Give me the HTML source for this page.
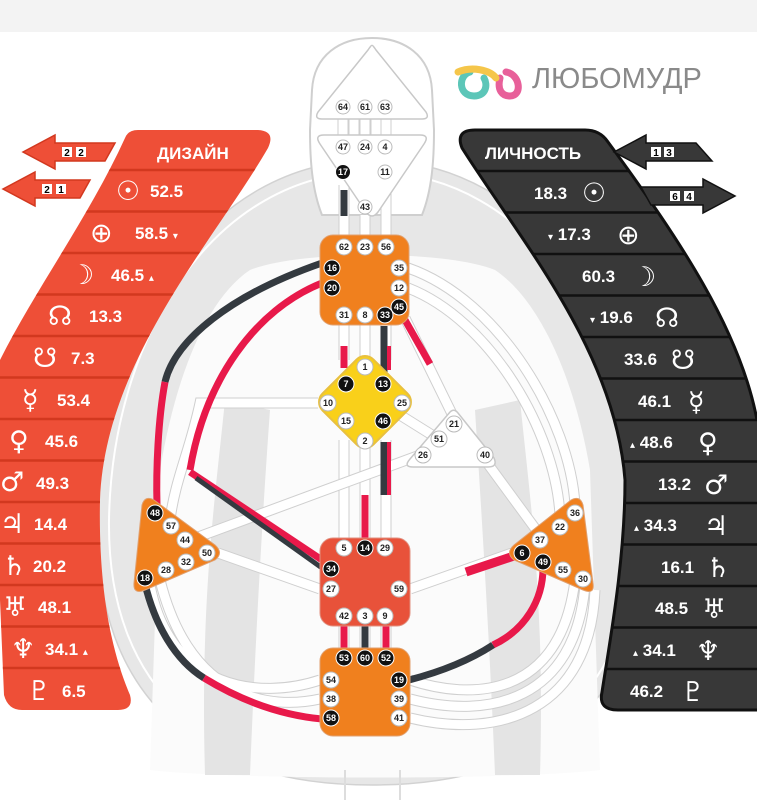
<!DOCTYPE html>
<html><head><meta charset="utf-8"><style>
html,body{margin:0;padding:0;background:#fff;}
svg{display:block;font-family:"Liberation Sans","DejaVu Sans",sans-serif;}
.g circle{fill:#fff;stroke:#bbb;stroke-width:1;}
.g text{font-size:9px;font-weight:bold;text-anchor:middle;fill:#222;}
.b circle{fill:#111;stroke:#fff;stroke-width:1;}
.b text{fill:#fff;}
.pt{fill:#fff;font-size:17px;font-weight:bold;}
.sym{fill:#fff;font-family:"DejaVu Sans",sans-serif;font-size:27px;font-weight:normal;}
.tk{fill:none;stroke:#cfcfcf;stroke-width:11;stroke-linecap:butt;}
.tw{fill:none;stroke:#fff;stroke-width:9;}
</style></head><body>
<svg width="757" height="800" viewBox="0 0 757 800" xmlns="http://www.w3.org/2000/svg">
<rect width="757" height="800" fill="#fff"/>
<rect width="757" height="32" fill="#f3f3f3"/>

<path d="M372,160 C205,160 100,330 97,520 C95,700 200,785 372,785 C545,785 652,700 650,520 C647,330 540,160 372,160 Z" fill="#e7e7e7" stroke="#d2d2d2" stroke-width="1.5"/>
<path d="M372,172 C215,172 112,335 109,520 C107,690 210,775 372,775 C535,775 640,690 638,520 C635,335 530,172 372,172 Z" fill="none" stroke="#fff" stroke-width="2"/>
<path d="M250,270 C300,250 445,250 495,270 C540,300 575,380 590,470 L600,770 C520,780 230,780 150,770 L160,470 C175,380 205,300 250,270 Z" fill="#fbfbfb"/>
<path d="M225,400 C215,500 200,600 205,775 L250,775 C255,650 262,520 270,410 Z" fill="#e4e4e4"/>
<path d="M520,400 C530,500 545,600 540,775 L495,775 C490,650 482,520 475,410 Z" fill="#e4e4e4"/>
<path d="M345,770 L345,800 M400,770 L400,800" stroke="#ddd" stroke-width="2"/>
<!-- head -->
<path d="M322,215 C312,190 310,160 310,130 L312,90 C314,55 340,38 372,38 C404,38 430,55 432,90 L434,130 C434,160 432,190 422,215 Z" fill="#fff" stroke="#cfcfcf" stroke-width="2"/>

<g>
<path class="tk" d="M343,118 V135 M354,118 V135 M365,118 V135 M376,118 V135 M386,118 V135"/>
<path class="tw" d="M343,118 V135 M354,118 V135 M365,118 V135 M376,118 V135 M386,118 V135"/>
<path class="tk" d="M344,185 V236 M365,215 V236 M386,185 V236 M344,325 V360 M365,325 V360 M386,325 V360 M344,440 V540 M365,440 V540 M386,440 V540 M344,625 V650 M365,625 V650 M386,625 V650"/>
<path class="tw" d="M344,185 V236 M365,215 V236 M386,185 V236 M344,325 V360 M365,325 V360 M386,325 V360 M344,440 V540 M365,440 V540 M386,440 V540 M344,625 V650 M365,625 V650 M386,625 V650"/>
<path class="tk" d="M405,318 L455,420 M408,268 C500,300 570,420 575,505 M408,288 C490,320 555,430 560,515 M318,403 L200,403 C190,450 175,480 170,520 M400,415 L440,440 M190,540 L420,455 M485,460 L540,535 M218,553 L320,589 M410,589 L512,553 M150,585 C170,690 260,700 320,680 M160,580 C190,700 270,710 320,699 M410,680 C470,700 560,700 575,580 M410,699 C490,720 575,700 585,585 M410,718 C500,740 590,710 595,590"/>
<path class="tw" d="M405,318 L455,420 M408,268 C500,300 570,420 575,505 M408,288 C490,320 555,430 560,515 M318,403 L200,403 C190,450 175,480 170,520 M400,415 L440,440 M190,540 L420,455 M485,460 L540,535 M218,553 L320,589 M410,589 L512,553 M150,585 C170,690 260,700 320,680 M160,580 C190,700 270,710 320,699 M410,680 C470,700 560,700 575,580 M410,699 C490,720 575,700 585,585 M410,718 C500,740 590,710 595,590"/>
</g>

<g fill="none" stroke-width="7" stroke-linecap="butt">
<path d="M344,190 V216" stroke="#343a40"/>
<path d="M322,263 C230,295 175,340 165,382" stroke="#343a40"/>
<path d="M165,382 C158,420 156,470 157,505" stroke="#e8194a"/>
<path d="M322,283 C255,310 205,380 190,470" stroke="#e8194a"/>
<path d="M190,472 L322,560" stroke="#e8194a"/>
<path d="M196,478 L322,568" stroke="#343a40" stroke-width="5"/>
<path d="M405,320 L430,364" stroke="#e8194a"/>
<path d="M344,346 V368" stroke="#e8194a"/>
<path d="M384,326 V372" stroke="#343a40"/>
<path d="M389,346 V370" stroke="#e8194a" stroke-width="4"/>
<path d="M384,442 V495" stroke="#343a40"/>
<path d="M389,442 V495" stroke="#e8194a" stroke-width="4"/>
<path d="M365,495 V540" stroke="#e8194a"/>
<path d="M466,572 L514,556" stroke="#e8194a" stroke-width="9"/>
<path d="M543,568 C543,600 525,630 493,645" stroke="#e8194a"/>
<path d="M493,645 C470,660 440,672 409,680" stroke="#343a40"/>
<path d="M145,584 C155,625 175,660 204,678" stroke="#343a40"/>
<path d="M204,678 C240,700 280,715 322,719" stroke="#e8194a"/>
<path d="M344,626 V648" stroke="#e8194a"/>
<path d="M365,626 V648" stroke="#343a40"/>
<path d="M386,626 V648" stroke="#e8194a"/>
</g>

<path d="M372,46 Q372,44 376,50 L426,112 Q430,119 422,119 L322,119 Q314,119 318,112 L368,50 Q372,44 372,46 Z" fill="#fff" stroke="#c8c8c8" stroke-width="1.5"/>
<path d="M324,135 L420,135 Q430,135 424,144 L378,212 Q372,220 366,212 L320,144 Q314,135 324,135 Z" fill="#fff" stroke="#c8c8c8" stroke-width="1.5"/>
<rect x="320" y="235" width="89" height="90" rx="13" fill="#f0801e" stroke="#e0a070" stroke-width="1"/>
<rect x="329" y="366" width="72" height="72" rx="12" fill="#f9d01a" stroke="#e8c040" stroke-width="2" transform="rotate(45 365 402)"/>
<path d="M450,412 Q454,408 458,413 L494,458 Q498,467 488,467 L413,467 Q403,467 410,459 Z" fill="#fff" stroke="#c8c8c8" stroke-width="1.5"/>
<path d="M142,505 Q145,495 154,500 L215,545 Q224,553 215,560 L145,590 Q133,595 134,583 Z" fill="#f0801e" stroke="#e0a070" stroke-width="1"/>
<path d="M583,505 Q580,495 571,500 L514,545 Q505,553 514,560 L583,590 Q595,595 593,583 Z" fill="#f0801e" stroke="#e0a070" stroke-width="1"/>
<rect x="320" y="538" width="90" height="88" rx="13" fill="#e8523a" stroke="#e09080" stroke-width="1"/>
<rect x="320" y="648" width="90" height="88" rx="13" fill="#f0801e" stroke="#e0a070" stroke-width="1"/>

<g class="g">
<g><circle cx="343" cy="107" r="7"/><text x="343" y="110">64</text></g>
<g><circle cx="365" cy="107" r="7"/><text x="365" y="110">61</text></g>
<g><circle cx="385" cy="107" r="7"/><text x="385" y="110">63</text></g>
<g><circle cx="343" cy="147" r="7"/><text x="343" y="150">47</text></g>
<g><circle cx="365" cy="147" r="7"/><text x="365" y="150">24</text></g>
<g><circle cx="385" cy="147" r="7"/><text x="385" y="150">4</text></g>
<g class="b"><circle cx="343" cy="172" r="7.5"/><text x="343" y="175">17</text></g>
<g><circle cx="385" cy="172" r="7"/><text x="385" y="175">11</text></g>
<g><circle cx="365" cy="207" r="7"/><text x="365" y="210">43</text></g>
<g><circle cx="344" cy="247" r="8"/><text x="344" y="250">62</text></g>
<g><circle cx="365" cy="247" r="8"/><text x="365" y="250">23</text></g>
<g><circle cx="386" cy="247" r="8"/><text x="386" y="250">56</text></g>
<g class="b"><circle cx="332" cy="268" r="8"/><text x="332" y="271">16</text></g>
<g><circle cx="399" cy="268" r="8"/><text x="399" y="271">35</text></g>
<g class="b"><circle cx="332" cy="288" r="8"/><text x="332" y="291">20</text></g>
<g><circle cx="399" cy="288" r="8"/><text x="399" y="291">12</text></g>
<g class="b"><circle cx="399" cy="307" r="8"/><text x="399" y="310">45</text></g>
<g><circle cx="344" cy="315" r="8"/><text x="344" y="318">31</text></g>
<g><circle cx="365" cy="315" r="8"/><text x="365" y="318">8</text></g>
<g class="b"><circle cx="385" cy="315" r="8"/><text x="385" y="318">33</text></g>
<g><circle cx="365" cy="367" r="8"/><text x="365" y="370">1</text></g>
<g class="b"><circle cx="346" cy="384" r="8"/><text x="346" y="387">7</text></g>
<g class="b"><circle cx="383" cy="384" r="8"/><text x="383" y="387">13</text></g>
<g><circle cx="328" cy="403" r="8"/><text x="328" y="406">10</text></g>
<g><circle cx="402" cy="403" r="8"/><text x="402" y="406">25</text></g>
<g><circle cx="346" cy="421" r="8"/><text x="346" y="424">15</text></g>
<g class="b"><circle cx="383" cy="421" r="8"/><text x="383" y="424">46</text></g>
<g><circle cx="365" cy="441" r="8"/><text x="365" y="444">2</text></g>
<g><circle cx="454" cy="424" r="8"/><text x="454" y="427">21</text></g>
<g><circle cx="439" cy="439" r="8"/><text x="439" y="442">51</text></g>
<g><circle cx="423" cy="455" r="8"/><text x="423" y="458">26</text></g>
<g><circle cx="485" cy="455" r="8"/><text x="485" y="458">40</text></g>
<g class="b"><circle cx="155" cy="513" r="8"/><text x="155" y="516">48</text></g>
<g><circle cx="171" cy="526" r="8"/><text x="171" y="529">57</text></g>
<g><circle cx="185" cy="540" r="8"/><text x="185" y="543">44</text></g>
<g><circle cx="207" cy="553" r="8"/><text x="207" y="556">50</text></g>
<g><circle cx="186" cy="562" r="8"/><text x="186" y="565">32</text></g>
<g><circle cx="166" cy="570" r="8"/><text x="166" y="573">28</text></g>
<g class="b"><circle cx="145" cy="578" r="8"/><text x="145" y="581">18</text></g>
<g><circle cx="575" cy="513" r="8"/><text x="575" y="516">36</text></g>
<g><circle cx="560" cy="527" r="8"/><text x="560" y="530">22</text></g>
<g><circle cx="540" cy="540" r="8"/><text x="540" y="543">37</text></g>
<g class="b"><circle cx="522" cy="553" r="8"/><text x="522" y="556">6</text></g>
<g class="b"><circle cx="543" cy="562" r="8"/><text x="543" y="565">49</text></g>
<g><circle cx="563" cy="570" r="8"/><text x="563" y="573">55</text></g>
<g><circle cx="583" cy="579" r="8"/><text x="583" y="582">30</text></g>
<g><circle cx="344" cy="548" r="8"/><text x="344" y="551">5</text></g>
<g class="b"><circle cx="365" cy="548" r="8"/><text x="365" y="551">14</text></g>
<g><circle cx="385" cy="548" r="8"/><text x="385" y="551">29</text></g>
<g class="b"><circle cx="331" cy="569" r="8"/><text x="331" y="572">34</text></g>
<g><circle cx="331" cy="589" r="8"/><text x="331" y="592">27</text></g>
<g><circle cx="399" cy="589" r="8"/><text x="399" y="592">59</text></g>
<g><circle cx="344" cy="616" r="8"/><text x="344" y="619">42</text></g>
<g><circle cx="365" cy="616" r="8"/><text x="365" y="619">3</text></g>
<g><circle cx="385" cy="616" r="8"/><text x="385" y="619">9</text></g>
<g class="b"><circle cx="344" cy="658" r="8"/><text x="344" y="661">53</text></g>
<g class="b"><circle cx="365" cy="658" r="8"/><text x="365" y="661">60</text></g>
<g class="b"><circle cx="386" cy="658" r="8"/><text x="386" y="661">52</text></g>
<g><circle cx="331" cy="680" r="8"/><text x="331" y="683">54</text></g>
<g class="b"><circle cx="399" cy="680" r="8"/><text x="399" y="683">19</text></g>
<g><circle cx="331" cy="699" r="8"/><text x="331" y="702">38</text></g>
<g><circle cx="399" cy="699" r="8"/><text x="399" y="702">39</text></g>
<g class="b"><circle cx="331" cy="718" r="8"/><text x="331" y="721">58</text></g>
<g><circle cx="399" cy="718" r="8"/><text x="399" y="721">41</text></g>
</g>

<g fill="none" stroke-width="7" stroke-linecap="round">
<path d="M470,72 C458,75 458,96 474,96 C486,96 488,85 484,78" stroke="#5cc6b8"/>
<path d="M500,78 C497,90 502,96 510,96 C523,96 520,74 506,72" stroke="#e8609a"/>
<path d="M458,72 C472,66 490,70 496,78" stroke="#f5c64a"/>
</g>
<text x="532" y="88" font-size="29" fill="#8a8a8a">ЛЮБОМУДР</text>

<defs>
<clipPath id="lc"><path d="M138,130 L258,130 Q276,131 268,148 C215,240 105,360 100,500 C98,600 115,660 130,695 Q134,710 118,710 L22,710 Q8,710 4,695 L0,600 L0,360 C35,290 90,215 125,138 Q128,130 138,130 Z"/></clipPath>
<clipPath id="rc"><path d="M475,130 L585,130 Q600,130 608,142 C680,240 740,330 757,420 L757,710 L618,710 Q598,710 602,692 C610,640 625,560 625,480 C615,350 520,240 462,148 Q455,130 475,130 Z"/></clipPath>
</defs>
<g clip-path="url(#lc)">
<rect x="0" y="120" width="300" height="600" fill="#ee4f37"/>
<g stroke="#d2381f" stroke-width="2.5">
<line x1="0" y1="170" x2="300" y2="170"/><line x1="0" y1="211.5" x2="300" y2="211.5"/><line x1="0" y1="253" x2="300" y2="253"/><line x1="0" y1="294.5" x2="300" y2="294.5"/><line x1="0" y1="336" x2="300" y2="336"/><line x1="0" y1="377.5" x2="300" y2="377.5"/><line x1="0" y1="419" x2="300" y2="419"/><line x1="0" y1="460.5" x2="300" y2="460.5"/><line x1="0" y1="502" x2="300" y2="502"/><line x1="0" y1="543.5" x2="300" y2="543.5"/><line x1="0" y1="585" x2="300" y2="585"/><line x1="0" y1="626.5" x2="300" y2="626.5"/><line x1="0" y1="668" x2="300" y2="668"/>
</g>
</g>
<g class="pt">
<text x="157" y="159" font-size="17">ДИЗАЙН</text>
<text class="sym" x="116" y="200">☉</text><text x="150" y="197">52.5</text>
<text class="sym" x="90" y="242">⊕</text><text x="135" y="239">58.5 <tspan font-size="10">▾</tspan></text>
<text class="sym" x="70" y="284">☽</text><text x="111" y="281">46.5 <tspan font-size="10">▴</tspan></text>
<text class="sym" x="48" y="325">☊</text><text x="89" y="322">13.3</text>
<text class="sym" x="33" y="367">☋</text><text x="71" y="364">7.3</text>
<text class="sym" x="22" y="409">☿</text><text x="57" y="406">53.4</text>
<text class="sym" x="9" y="450">♀</text><text x="45" y="447">45.6</text>
<text class="sym" x="0" y="491">♂</text><text x="36" y="489">49.3</text>
<text class="sym" x="0" y="533">♃</text><text x="34" y="530">14.4</text>
<text class="sym" x="2" y="575">♄</text><text x="33" y="572">20.2</text>
<text class="sym" x="3" y="616">♅</text><text x="38" y="613">48.1</text>
<text class="sym" x="11" y="658">♆</text><text x="45" y="655">34.1 <tspan font-size="10">▴</tspan></text>
<text class="sym" x="27" y="700">♇</text><text x="62" y="697">6.5</text>
</g>

<g clip-path="url(#rc)">
<rect x="440" y="120" width="320" height="600" fill="#383838"/>
<g stroke="#111" stroke-width="2.5">
<line x1="440" y1="171" x2="760" y2="171"/><line x1="440" y1="212.5" x2="760" y2="212.5"/><line x1="440" y1="254" x2="760" y2="254"/><line x1="440" y1="295.5" x2="760" y2="295.5"/><line x1="440" y1="337" x2="760" y2="337"/><line x1="440" y1="378.5" x2="760" y2="378.5"/><line x1="440" y1="420" x2="760" y2="420"/><line x1="440" y1="461.5" x2="760" y2="461.5"/><line x1="440" y1="503" x2="760" y2="503"/><line x1="440" y1="544.5" x2="760" y2="544.5"/><line x1="440" y1="586" x2="760" y2="586"/><line x1="440" y1="627.5" x2="760" y2="627.5"/><line x1="440" y1="669" x2="760" y2="669"/>
</g>
</g>
<path d="M475,130 L585,130 Q600,130 608,142 C680,240 740,330 757,420 M757,710 L618,710 Q598,710 602,692 C610,640 625,560 625,480 C615,350 520,240 462,148 Q455,130 475,130" fill="none" stroke="#111" stroke-width="3"/>
<g class="pt">
<text x="485" y="159" font-size="17">ЛИЧНОСТЬ</text>
<text x="534" y="199">18.3</text><text class="sym" x="582" y="202">☉</text>
<text x="548" y="240"><tspan font-size="10">▾</tspan> 17.3</text><text class="sym" x="617" y="244">⊕</text>
<text x="582" y="282">60.3</text><text class="sym" x="632" y="286">☽</text>
<text x="590" y="323"><tspan font-size="10">▾</tspan> 19.6</text><text class="sym" x="655" y="327">☊</text>
<text x="624" y="365">33.6</text><text class="sym" x="671" y="369">☋</text>
<text x="638" y="407">46.1</text><text class="sym" x="688" y="411">☿</text>
<text x="630" y="448"><tspan font-size="10">▴</tspan> 48.6</text><text class="sym" x="698" y="452">♀</text>
<text x="658" y="490">13.2</text><text class="sym" x="704" y="494">♂</text>
<text x="634" y="531"><tspan font-size="10">▴</tspan> 34.3</text><text class="sym" x="704" y="535">♃</text>
<text x="661" y="573">16.1</text><text class="sym" x="706" y="577">♄</text>
<text x="655" y="614">48.5</text><text class="sym" x="702" y="618">♅</text>
<text x="633" y="656"><tspan font-size="10">▴</tspan> 34.1</text><text class="sym" x="696" y="660">♆</text>
<text x="630" y="697">46.2</text><text class="sym" x="681" y="701">♇</text>
</g>

<path d="M23,152 L55,135 L55,143 L115,143 L105,161 L55,161 L55,169 Z" fill="#ee4f37" stroke="#d2381f" stroke-width="1.5"/>
<rect x="62" y="147" width="10" height="10" fill="#fff"/><text x="67" y="156" font-size="10" font-weight="bold" text-anchor="middle">2</text>
<rect x="76" y="147" width="10" height="10" fill="#fff"/><text x="81" y="156" font-size="10" font-weight="bold" text-anchor="middle">2</text>
<path d="M3,189 L35,172 L35,180 L90,180 L80,198 L35,198 L35,206 Z" fill="#ee4f37" stroke="#d2381f" stroke-width="1.5"/>
<rect x="42" y="184" width="10" height="10" fill="#fff"/><text x="47" y="193" font-size="10" font-weight="bold" text-anchor="middle">2</text>
<rect x="56" y="184" width="10" height="10" fill="#fff"/><text x="61" y="193" font-size="10" font-weight="bold" text-anchor="middle">1</text>
<path d="M614,152 L646,135 L646,143 L696,143 L712,161 L646,161 L646,169 Z" fill="#383838" stroke="#111" stroke-width="1.5"/>
<rect x="651" y="147" width="10" height="10" fill="#fff"/><text x="656" y="156" font-size="10" font-weight="bold" text-anchor="middle">1</text>
<rect x="664" y="147" width="10" height="10" fill="#fff"/><text x="669" y="156" font-size="10" font-weight="bold" text-anchor="middle">3</text>
<path d="M641,187 L703,187 L703,179 L735,196 L703,213 L703,205 L651,205 Z" fill="#383838" stroke="#111" stroke-width="1.5"/>
<rect x="670" y="191" width="10" height="10" fill="#fff"/><text x="675" y="200" font-size="10" font-weight="bold" text-anchor="middle">6</text>
<rect x="684" y="191" width="10" height="10" fill="#fff"/><text x="689" y="200" font-size="10" font-weight="bold" text-anchor="middle">4</text>
</svg>
</body></html>
